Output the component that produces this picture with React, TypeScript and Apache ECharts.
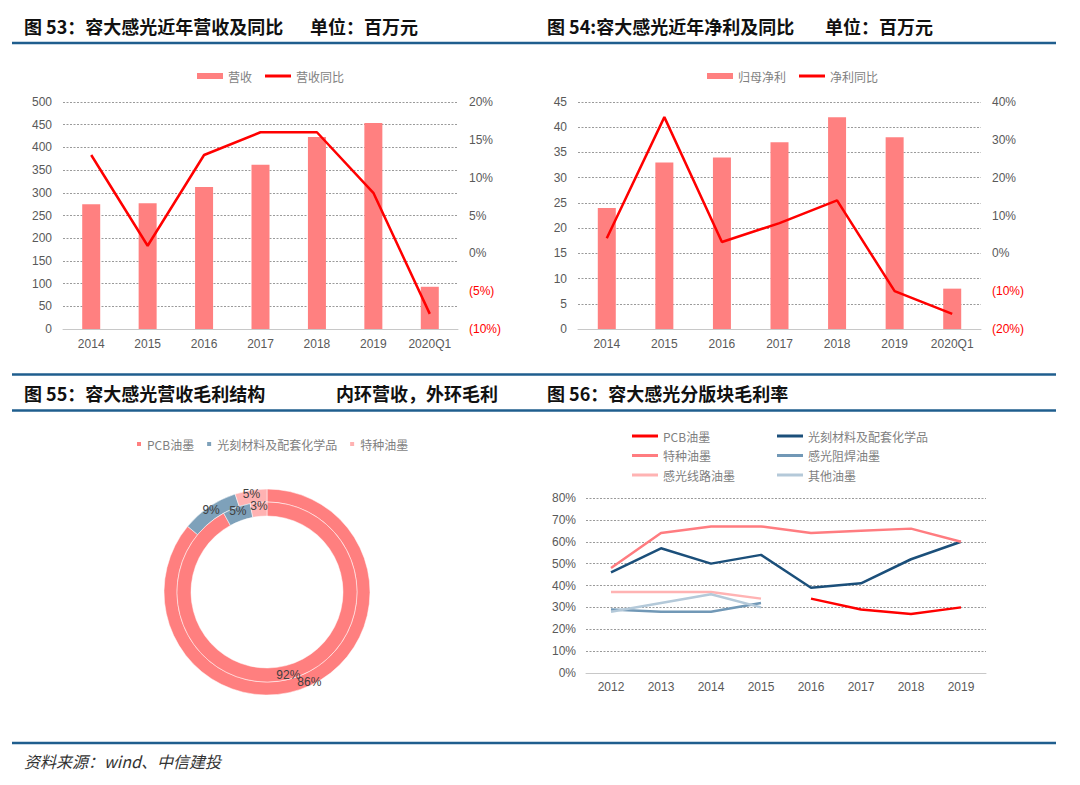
import React, { useEffect, useRef } from 'react';
import * as echarts from 'echarts';

// ---- Data ----
const years53 = ['2014', '2015', '2016', '2017', '2018', '2019', '2020Q1'];
const revenue = [275, 277, 313, 362, 423, 454, 93];
const revenueYoY = [13, 1, 13, 16, 16, 8, -8];
const netProfit = [24, 33, 34, 37, 42, 38, 8];
const netProfitYoY = [4, 36, 3, 8, 14, -10, -16];

const pieNames = ['PCB油墨', '光刻材料及配套化学品', '特种油墨'];
const revenueShare = [92, 5, 3];
const grossShare = [86, 9, 5];

const years56 = ['2012', '2013', '2014', '2015', '2016', '2017', '2018', '2019'];
const pcbInk = [null, null, null, null, 34, 29, 27, 30];
const photoresist = [46, 57, 50, 54, 39, 41, 52, 60];
const specialInk = [48, 64, 67, 67, 64, 65, 66, 60];
const solderMaskInk = [29, 28, 28, 32, null, null, null, null];
const circuitInk = [37, 37, 37, 34, null, null, null, null];
const otherInk = [28, 32, 36, 30, null, null, null, null];

// ---- Styles ----
const SANS = "Arial, 'Liberation Sans', 'Noto Sans CJK SC', sans-serif";
const CJK = "'Noto Sans CJK SC', sans-serif";
const AX = '#595959';
const LEG = '#7f7f7f';
const GRIDLINE = { show: true, lineStyle: { color: '#9a9a9a', type: [2, 1.5] as any, width: 1 } };
const BLUE = '#1F5E8E';
const BAR = '#FF8080';
const RED = '#FF0000';
const PIE_COLORS = ['#FF7F7F', '#7EA1BA', '#FFB2B2'];
const LINE_ICON = 'path://M0,0H26V3H0Z';

const pct = (v: string) => {
  const n = parseFloat(v);
  return n < 0 ? `(${-n}%)` : `${n}%`;
};
const pctColor = (v: any) => (parseFloat(v) < 0 ? RED : AX);

function buildOption(): any {
  const catAxis = (gridIndex: number, data: string[], margin: number) => ({
    type: 'category',
    gridIndex,
    data,
    axisLine: { show: true, lineStyle: { color: '#c8c8c8', width: 1 } },
    axisTick: { show: false },
    axisLabel: { color: AX, fontSize: 12, fontFamily: SANS, margin },
  });
  const valAxis = (gridIndex: number, position: string, min: number, max: number, interval: number, extra: any = {}) => ({
    type: 'value',
    gridIndex,
    position,
    min,
    max,
    interval,
    axisLine: { show: false },
    axisTick: { show: false },
    splitLine: position === 'left' ? GRIDLINE : { show: false },
    axisLabel: { color: AX, fontSize: 12, fontFamily: SANS, margin: 11, ...extra },
  });

  const titles = [
    { x: 24, y: 26, t: '图 53：容大感光近年营收及同比' },
    { x: 310, y: 26, t: '单位：百万元' },
    { x: 547, y: 26, t: '图 54:容大感光近年净利及同比' },
    { x: 825, y: 26, t: '单位：百万元' },
    { x: 24, y: 393, t: '图 55：容大感光营收毛利结构' },
    { x: 336, y: 393, t: '内环营收，外环毛利' },
    { x: 547, y: 393, t: '图 56：容大感光分版块毛利率' },
  ];
  const lines = [43, 374.5, 410.5, 743];

  const graphic: any[] = [
    ...titles.map((t) => ({
      type: 'text',
      x: t.x,
      y: t.y,
      style: { text: t.t, fontSize: 18, fontWeight: 'bold', fontFamily: CJK, fill: '#111', verticalAlign: 'middle' },
    })),
    ...lines.map((y) => ({
      type: 'line',
      shape: { x1: 12, y1: y, x2: 1056, y2: y },
      style: { stroke: BLUE, lineWidth: 2.5 },
    })),
    {
      type: 'text',
      x: 24,
      y: 761,
      style: { text: '资料来源：wind、中信建投', fontSize: 16, fontStyle: 'italic', fontFamily: CJK, fill: '#333', verticalAlign: 'middle' },
    },
  ];

  const lineLegendBase = {
    orient: 'vertical',
    padding: 0,
    itemWidth: 26,
    itemHeight: 12,
    itemGap: 7.5,
    textStyle: { color: LEG, fontSize: 12, fontFamily: CJK },
  };

  const line56 = (name: string, data: any[], color: string) => ({
    name,
    type: 'line',
    xAxisIndex: 2,
    yAxisIndex: 4,
    data,
    symbol: 'none',
    connectNulls: false,
    lineStyle: { color, width: 2.5 },
    itemStyle: { color },
  });

  const pieLabel = { show: true, position: 'inside', formatter: '{c}%', color: '#404040', fontSize: 12, fontFamily: SANS };

  return {
    animation: false,
    backgroundColor: '#fff',
    graphic,
    legend: [
      {
        left: 197,
        top: 70,
        padding: 0,
        itemWidth: 26,
        itemHeight: 6,
        itemGap: 13,
        textStyle: { color: LEG, fontSize: 12, fontFamily: CJK },
        data: [{ name: '营收', icon: 'rect' }, { name: '营收同比', icon: LINE_ICON }],
      },
      {
        left: 707,
        top: 70,
        padding: 0,
        itemWidth: 26,
        itemHeight: 6,
        itemGap: 13,
        textStyle: { color: LEG, fontSize: 12, fontFamily: CJK },
        data: [{ name: '归母净利', icon: 'rect' }, { name: '净利同比', icon: LINE_ICON }],
      },
      {
        left: 135,
        top: 438,
        padding: 0,
        itemWidth: 6,
        itemHeight: 6,
        itemGap: 11,
        icon: 'rect',
        textStyle: { color: LEG, fontSize: 12, fontFamily: CJK },
        formatter: (n: string) => n.replace('饼-', ''),
        data: pieNames.map((n) => '饼-' + n),
      },
      { ...lineLegendBase, left: 632, top: 430, data: ['PCB油墨', '特种油墨', '感光线路油墨'].map((name) => ({ name, icon: LINE_ICON })) },
      { ...lineLegendBase, left: 777, top: 430, data: ['光刻材料及配套化学品', '感光阻焊油墨', '其他油墨'].map((name) => ({ name, icon: LINE_ICON })) },
    ],
    grid: [
      { left: 63, top: 102, width: 395, height: 227 },
      { left: 578, top: 102, width: 403, height: 227 },
      { left: 586, top: 498, width: 400, height: 175 },
    ],
    xAxis: [catAxis(0, years53, 9), catAxis(1, years53, 9), catAxis(2, years56, 8)],
    yAxis: [
      valAxis(0, 'left', 0, 500, 50),
      valAxis(0, 'right', -10, 20, 5, { formatter: pct, color: pctColor }),
      valAxis(1, 'left', 0, 45, 5),
      valAxis(1, 'right', -20, 40, 10, { formatter: pct, color: pctColor }),
      valAxis(2, 'left', 0, 80, 10, { formatter: (v: number) => `${v}%`, margin: 10 }),
    ],
    series: [
      {
        name: '营收',
        type: 'bar',
        xAxisIndex: 0,
        yAxisIndex: 0,
        data: revenue,
        barWidth: 18,
        itemStyle: { color: BAR },
      },
      {
        name: '营收同比',
        type: 'line',
        xAxisIndex: 0,
        yAxisIndex: 1,
        data: revenueYoY,
        symbol: 'none',
        lineStyle: { color: RED, width: 2.5 },
        itemStyle: { color: RED },
        z: 5,
      },
      {
        name: '归母净利',
        type: 'bar',
        xAxisIndex: 1,
        yAxisIndex: 2,
        data: netProfit,
        barWidth: 18,
        itemStyle: { color: BAR },
      },
      {
        name: '净利同比',
        type: 'line',
        xAxisIndex: 1,
        yAxisIndex: 3,
        data: netProfitYoY,
        symbol: 'none',
        lineStyle: { color: RED, width: 2.5 },
        itemStyle: { color: RED },
        z: 5,
      },
      {
        name: '营收结构',
        type: 'pie',
        center: [267, 592],
        radius: [76, 90],
        startAngle: 90,
        clockwise: true,
        avoidLabelOverlap: false,
        labelLayout: { hideOverlap: false },
        label: pieLabel,
        labelLine: { show: false },
        itemStyle: { borderColor: '#fff', borderWidth: 0.5 },
        emphasis: { disabled: true },
        z: 3,
        data: pieNames.map((n, i) => ({ name: '饼-' + n, value: revenueShare[i], itemStyle: { color: PIE_COLORS[i] } })),
      },
      {
        name: '毛利结构',
        type: 'pie',
        center: [267, 592],
        radius: [90, 103],
        startAngle: 90,
        clockwise: true,
        avoidLabelOverlap: false,
        labelLayout: { hideOverlap: false },
        label: pieLabel,
        labelLine: { show: false },
        itemStyle: { borderColor: '#fff', borderWidth: 0.5 },
        emphasis: { disabled: true },
        z: 2,
        data: pieNames.map((n, i) => ({ name: '饼-' + n, value: grossShare[i], itemStyle: { color: PIE_COLORS[i] } })),
      },
      line56('PCB油墨', pcbInk, RED),
      line56('光刻材料及配套化学品', photoresist, '#1B4F7A'),
      line56('特种油墨', specialInk, '#FF7C80'),
      line56('感光阻焊油墨', solderMaskInk, '#7198B6'),
      line56('感光线路油墨', circuitInk, '#FFB3B3'),
      line56('其他油墨', otherInk, '#B4C9D9'),
    ],
  };
}

export default function App() {
  const ref = useRef<HTMLDivElement>(null);
  useEffect(() => {
    if (!ref.current) return;
    const chart = echarts.init(ref.current, null, { renderer: 'svg' });
    chart.setOption(buildOption());
    return () => chart.dispose();
  }, []);
  return (
    <div
      ref={ref}
      style={{ position: 'fixed', left: 0, top: 0, width: 1080, height: 785, background: '#fff' }}
    />
  );
}
